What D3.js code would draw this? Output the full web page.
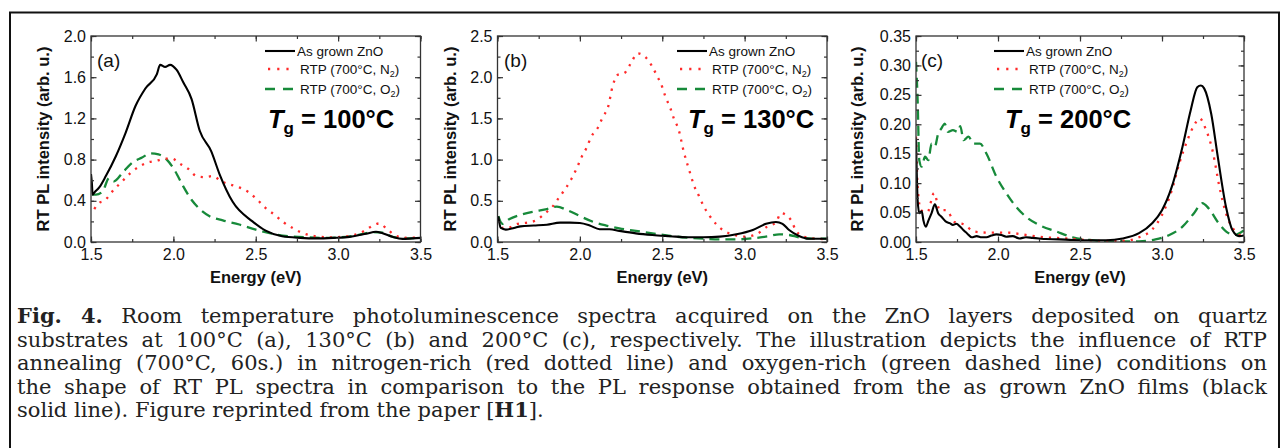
<!DOCTYPE html>
<html><head><meta charset="utf-8">
<script src="https://cdn.jsdelivr.net/npm/d3@7"></script>
<style>body{margin:0;background:#fff}svg{display:block}</style>
</head><body>
<svg id="fig" width="1281" height="448"></svg>
<script>
// ---------- data ----------
const energyTicks = [1.5, 2.0, 2.5, 3.0, 3.5];
const yTicksA = [0, 0.4, 0.8, 1.2, 1.6, 2.0];
const yTicksB = [0, 0.5, 1.0, 1.5, 2.0, 2.5];
const yTicksC = [0, 0.05, 0.10, 0.15, 0.20, 0.25, 0.30, 0.35];
const panelLabels = ["(a)", "(b)", "(c)"];
const growthTemps = ["100°C", "130°C", "200°C"];
const seriesNames = ["As grown ZnO", "RTP (700°C, N|2|)", "RTP (700°C, O|2|)"];

const a_asGrown = [[1.5,0.66],[1.505,0.58],[1.51,0.46],[1.52,0.48],[1.55,0.53],[1.59,0.64],[1.65,0.83],[1.71,1.06],[1.77,1.32],[1.83,1.49],[1.9,1.63],[1.92,1.72],[1.95,1.70],[1.98,1.72],[2.02,1.67],[2.06,1.55],[2.11,1.39],[2.16,1.08],[2.23,0.88],[2.28,0.66],[2.36,0.39],[2.48,0.20],[2.56,0.11],[2.66,0.055],[2.77,0.04],[2.87,0.035],[2.97,0.04],[3.07,0.05],[3.17,0.08],[3.23,0.10],[3.27,0.085],[3.33,0.05],[3.39,0.03],[3.45,0.035],[3.5,0.04]];
const a_rtpN2 = [[1.52,0.32],[1.55,0.38],[1.58,0.40],[1.64,0.51],[1.69,0.59],[1.74,0.67],[1.79,0.73],[1.84,0.77],[1.90,0.79],[1.95,0.81],[1.99,0.81],[2.04,0.76],[2.09,0.71],[2.14,0.64],[2.19,0.63],[2.24,0.64],[2.29,0.59],[2.34,0.56],[2.40,0.53],[2.46,0.48],[2.51,0.41],[2.56,0.33],[2.61,0.27],[2.67,0.19],[2.73,0.13],[2.78,0.09],[2.83,0.065],[2.89,0.05],[2.95,0.045],[3.05,0.055],[3.15,0.10],[3.19,0.14],[3.25,0.18],[3.30,0.12],[3.36,0.055],[3.43,0.04],[3.5,0.05]];
const a_rtpO2 = [[1.505,0.46],[1.53,0.46],[1.57,0.49],[1.61,0.62],[1.64,0.59],[1.69,0.67],[1.75,0.77],[1.81,0.82],[1.86,0.86],[1.91,0.85],[1.96,0.80],[2.01,0.69],[2.06,0.54],[2.11,0.41],[2.16,0.32],[2.22,0.25],[2.30,0.21],[2.40,0.17],[2.50,0.12],[2.60,0.08],[2.71,0.055],[2.81,0.045],[2.91,0.04],[3.01,0.045],[3.11,0.065],[3.21,0.095],[3.27,0.09],[3.33,0.05],[3.41,0.035],[3.5,0.04]];

const b_asGrown = [[1.505,0.31],[1.52,0.17],[1.55,0.15],[1.60,0.17],[1.64,0.19],[1.72,0.20],[1.80,0.21],[1.88,0.235],[1.94,0.235],[2.0,0.23],[2.06,0.20],[2.12,0.155],[2.18,0.155],[2.24,0.135],[2.34,0.105],[2.44,0.085],[2.55,0.07],[2.65,0.057],[2.75,0.057],[2.85,0.065],[2.95,0.093],[3.05,0.145],[3.13,0.22],[3.19,0.243],[3.23,0.22],[3.27,0.145],[3.33,0.073],[3.39,0.04],[3.5,0.04]];
const b_rtpN2 = [[1.505,0.27],[1.53,0.17],[1.56,0.17],[1.62,0.22],[1.66,0.23],[1.70,0.24],[1.74,0.27],[1.79,0.35],[1.83,0.42],[1.87,0.53],[1.91,0.64],[1.95,0.77],[1.98,0.89],[2.01,1.03],[2.04,1.14],[2.07,1.28],[2.11,1.39],[2.14,1.52],[2.17,1.63],[2.20,1.90],[2.23,2.03],[2.27,2.05],[2.31,2.17],[2.35,2.29],[2.40,2.24],[2.47,2.01],[2.50,1.88],[2.52,1.76],[2.55,1.62],[2.57,1.50],[2.60,1.36],[2.63,1.10],[2.65,0.96],[2.67,0.83],[2.69,0.70],[2.72,0.57],[2.75,0.44],[2.79,0.31],[2.83,0.21],[2.88,0.13],[2.94,0.085],[3.0,0.065],[3.07,0.093],[3.14,0.19],[3.19,0.235],[3.22,0.35],[3.28,0.27],[3.31,0.145],[3.36,0.065],[3.43,0.04],[3.5,0.035]];
const b_rtpO2 = [[1.505,0.315],[1.53,0.22],[1.57,0.275],[1.64,0.33],[1.72,0.37],[1.80,0.40],[1.86,0.43],[1.92,0.39],[2.0,0.315],[2.08,0.245],[2.16,0.20],[2.24,0.165],[2.34,0.135],[2.44,0.105],[2.55,0.073],[2.65,0.053],[2.75,0.04],[2.85,0.032],[2.95,0.032],[3.05,0.045],[3.15,0.073],[3.21,0.093],[3.27,0.085],[3.33,0.057],[3.41,0.04],[3.5,0.04]];

const c_asGrown = [[1.50,0.176],[1.51,0.071],[1.52,0.049],[1.535,0.052],[1.545,0.037],[1.56,0.026],[1.575,0.036],[1.595,0.049],[1.615,0.064],[1.635,0.049],[1.655,0.043],[1.685,0.034],[1.705,0.032],[1.725,0.029],[1.745,0.031],[1.77,0.026],[1.79,0.02],[1.81,0.015],[1.84,0.008],[1.87,0.010],[1.90,0.008],[1.93,0.008],[1.96,0.011],[1.99,0.013],[2.02,0.012],[2.05,0.009],[2.09,0.01],[2.13,0.006],[2.17,0.008],[2.21,0.007],[2.25,0.006],[2.29,0.005],[2.375,0.0045],[2.455,0.0034],[2.56,0.003],[2.66,0.003],[2.76,0.006],[2.86,0.015],[2.94,0.032],[3.0,0.054],[3.06,0.094],[3.125,0.162],[3.175,0.224],[3.215,0.263],[3.237,0.266],[3.257,0.261],[3.30,0.218],[3.34,0.145],[3.39,0.060],[3.43,0.020],[3.47,0.010],[3.5,0.011]];
const c_rtpN2 = [[1.50,0.179],[1.51,0.094],[1.53,0.054],[1.57,0.051],[1.61,0.083],[1.645,0.054],[1.685,0.054],[1.735,0.034],[1.80,0.029],[1.85,0.018],[1.93,0.016],[2.05,0.016],[2.17,0.012],[2.29,0.008],[2.415,0.006],[2.54,0.0034],[2.66,0.0017],[2.78,0.002],[2.86,0.008],[2.94,0.021],[3.0,0.046],[3.06,0.088],[3.105,0.133],[3.155,0.173],[3.195,0.198],[3.23,0.21],[3.265,0.193],[3.31,0.153],[3.35,0.094],[3.39,0.049],[3.44,0.020],[3.5,0.009]];
const c_rtpO2 = [[1.50,0.306],[1.51,0.24],[1.52,0.139],[1.535,0.128],[1.555,0.145],[1.575,0.139],[1.595,0.167],[1.615,0.162],[1.635,0.184],[1.655,0.193],[1.675,0.201],[1.695,0.187],[1.725,0.19],[1.755,0.187],[1.77,0.197],[1.79,0.173],[1.82,0.179],[1.85,0.167],[1.89,0.167],[1.93,0.150],[1.99,0.111],[2.05,0.083],[2.11,0.060],[2.17,0.043],[2.25,0.029],[2.355,0.018],[2.455,0.008],[2.56,0.0034],[2.66,0.001],[2.76,0.001],[2.86,0.001],[2.96,0.0045],[3.045,0.012],[3.125,0.026],[3.195,0.049],[3.245,0.066],[3.285,0.057],[3.34,0.034],[3.39,0.018],[3.44,0.012],[3.5,0.020]];

const captionLines = [
  [["Fig. 4.", true], [" Room temperature photoluminescence spectra acquired on the ZnO layers deposited on quartz", false]],
  [["substrates at 100°C (a), 130°C (b) and 200°C (c), respectively. The illustration depicts the influence of RTP", false]],
  [["annealing (700°C, 60s.) in nitrogen-rich (red dotted line) and oxygen-rich (green dashed line) conditions on", false]],
  [["the shape of RT PL spectra in comparison to the PL response obtained from the as grown ZnO films (black", false]],
  [["solid line). Figure reprinted from the paper [", false], ["H1", true], ["].", false]]
];

// ---------- layout ----------
const svg = d3.select("#fig");
const SANS = "Liberation Sans, Arial, sans-serif";
const styles = [
  {stroke: "#000", width: 2.1, dash: null},
  {stroke: "#ff2a2a", width: 2.3, dash: "2.2 6"},
  {stroke: "#178a3a", width: 2.3, dash: "10 6"}
];

const panels = [
  {left: 91, right: 420.5, yMax: 2.0, ticks: yTicksA, minor: 0.2, fmt: ".1f", series: [a_asGrown, a_rtpN2, a_rtpO2], titleX: 43, legX: 265, tgX: 268, labX: 97},
  {left: 497.5, right: 827, yMax: 2.5, ticks: yTicksB, minor: 0.25, fmt: ".1f", series: [b_asGrown, b_rtpN2, b_rtpO2], titleX: 450, legX: 677, tgX: 688, labX: 504},
  {left: 916, right: 1244, yMax: 0.35, ticks: yTicksC, minor: 0.025, fmt: ".2f", series: [c_asGrown, c_rtpN2, c_rtpO2], titleX: 857, legX: 994, tgX: 1005, labX: 921}
];
const TOP = 36, BOTTOM = 242;

// outer box
svg.append("rect").attr("x", 10).attr("y", 12.5).attr("width", 1269).attr("height", 450)
  .attr("fill", "none").attr("stroke", "#111").attr("stroke-width", 2);

panels.forEach((p, pi) => {
  const x = d3.scaleLinear().domain([1.5, 3.5]).range([p.left, p.right]);
  const y = d3.scaleLinear().domain([0, p.yMax]).range([BOTTOM, TOP]);
  const g = svg.append("g");
  const minorX = d3.range(1.5, 3.5001, 0.25);
  const minorY = d3.range(0, p.yMax + 1e-9, p.minor);

  const clipId = "clip" + pi;
  svg.append("clipPath").attr("id", clipId).append("rect")
    .attr("x", p.left).attr("y", TOP).attr("width", p.right - p.left).attr("height", BOTTOM - TOP);

  // curves
  const line = d3.line().x(d => x(d[0])).y(d => y(d[1])).curve(d3.curveMonotoneX);
  [2, 1, 0].forEach(si => {
    const s = styles[si];
    g.append("path").datum(p.series[si]).attr("d", line)
      .attr("clip-path", `url(#${clipId})`)
      .attr("fill", "none").attr("stroke", s.stroke).attr("stroke-width", s.width)
      .attr("stroke-dasharray", s.dash).attr("stroke-linejoin", "round");
  });

  // axes (ticks inward)
  const axStyle = sel => {
    sel.select(".domain").remove();
    sel.selectAll("line").attr("stroke", "#333").attr("stroke-width", 1.2);
    sel.selectAll("text").attr("font-family", SANS).attr("font-size", 16).attr("fill", "#111");
  };
  g.append("g").attr("transform", `translate(0,${BOTTOM})`)
    .call(d3.axisBottom(x).tickValues(minorX).tickSize(-3).tickFormat("")).call(axStyle);
  g.append("g").attr("transform", `translate(0,${BOTTOM})`)
    .call(d3.axisBottom(x).tickValues(energyTicks).tickSize(-5.5).tickPadding(7).tickFormat(d3.format(".1f"))).call(axStyle);
  g.append("g").attr("transform", `translate(0,${TOP})`)
    .call(d3.axisTop(x).tickValues(minorX).tickSize(-3).tickFormat("")).call(axStyle);
  g.append("g").attr("transform", `translate(0,${TOP})`)
    .call(d3.axisTop(x).tickValues(energyTicks).tickSize(-5.5).tickFormat("")).call(axStyle);
  g.append("g").attr("transform", `translate(${p.left},0)`)
    .call(d3.axisLeft(y).tickValues(minorY).tickSize(-3).tickFormat("")).call(axStyle);
  g.append("g").attr("transform", `translate(${p.left},0)`)
    .call(d3.axisLeft(y).tickValues(p.ticks).tickSize(-5.5).tickPadding(5).tickFormat(d3.format(p.fmt))).call(axStyle);
  g.append("g").attr("transform", `translate(${p.right},0)`)
    .call(d3.axisRight(y).tickValues(minorY).tickSize(-3).tickFormat("")).call(axStyle);
  g.append("g").attr("transform", `translate(${p.right},0)`)
    .call(d3.axisRight(y).tickValues(p.ticks).tickSize(-5.5).tickFormat("")).call(axStyle);

  // frame
  g.append("rect").attr("x", p.left).attr("y", TOP).attr("width", p.right - p.left).attr("height", BOTTOM - TOP)
    .attr("fill", "none").attr("stroke", "#333").attr("stroke-width", 1.3);

  // axis titles
  g.append("text").attr("x", (p.left + p.right) / 2).attr("y", 283).attr("text-anchor", "middle")
    .attr("font-family", SANS).attr("font-weight", "bold").attr("font-size", 16.5).attr("fill", "#111")
    .text("Energy (eV)");
  g.append("text").attr("transform", `translate(${p.titleX + 6},${(TOP + BOTTOM) / 2}) rotate(-90)`)
    .attr("text-anchor", "middle")
    .attr("font-family", SANS).attr("font-weight", "bold").attr("font-size", 16.5).attr("fill", "#111")
    .text("RT PL intensity (arb. u.)");

  // panel label
  g.append("text").attr("x", p.labX).attr("y", 66.5).attr("font-family", SANS).attr("font-size", 19).attr("fill", "#111")
    .text(panelLabels[pi]);

  // legend
  const rows = [51, 69, 89];
  seriesNames.forEach((name, si) => {
    const s = styles[si];
    g.append("line").attr("x1", p.legX).attr("x2", p.legX + 30).attr("y1", rows[si]).attr("y2", rows[si])
      .attr("stroke", s.stroke).attr("stroke-width", s.width)
      .attr("stroke-dasharray", si === 1 ? "2.2 7" : (si === 2 ? "10 8" : null))
      .attr("stroke-dashoffset", si === 1 ? -3 : 0);
    const t = g.append("text").attr("x", p.legX + (si === 0 ? 32 : 35)).attr("y", rows[si] + 4.8)
      .attr("font-family", SANS).attr("font-size", 13.5).attr("fill", "#111");
    const parts = name.split("|");
    t.append("tspan").text(parts[0]);
    if (parts.length > 1) {
      t.append("tspan").attr("font-size", 9).attr("dy", 3).text(parts[1]);
      t.append("tspan").attr("dy", -3).text(parts[2]);
    }
  });

  // growth temperature
  const tg = g.append("text").attr("x", p.tgX).attr("y", 128)
    .attr("font-family", SANS).attr("font-weight", "bold").attr("font-size", 25.5).attr("fill", "#000");
  tg.append("tspan").attr("font-style", "italic").text("T");
  tg.append("tspan").attr("font-size", 17).attr("dy", 6).text("g");
  tg.append("tspan").attr("dy", -6).attr("style", "white-space:pre").text(" = " + growthTemps[pi]);
});

// caption (justified lines)
const CAP_L = 17, CAP_R = 1267;
captionLines.forEach((parts, i) => {
  const t = svg.append("text").attr("x", CAP_L).attr("y", 323 + i * 23.5)
    .attr("font-family", "DejaVu Serif, serif").attr("font-size", 21).attr("fill", "#222")
    .style("white-space", "pre");
  parts.forEach(([txt, bold]) => t.append("tspan").attr("font-weight", bold ? "bold" : null).text(txt));
  if (i < captionLines.length - 1) {
    const full = parts.map(d => d[0]).join("");
    const n = (full.match(/ /g) || []).length;
    const w = t.node().getComputedTextLength();
    t.style("word-spacing", ((CAP_R - CAP_L - w) / n) + "px");
  }
});
</script>
</body></html>
